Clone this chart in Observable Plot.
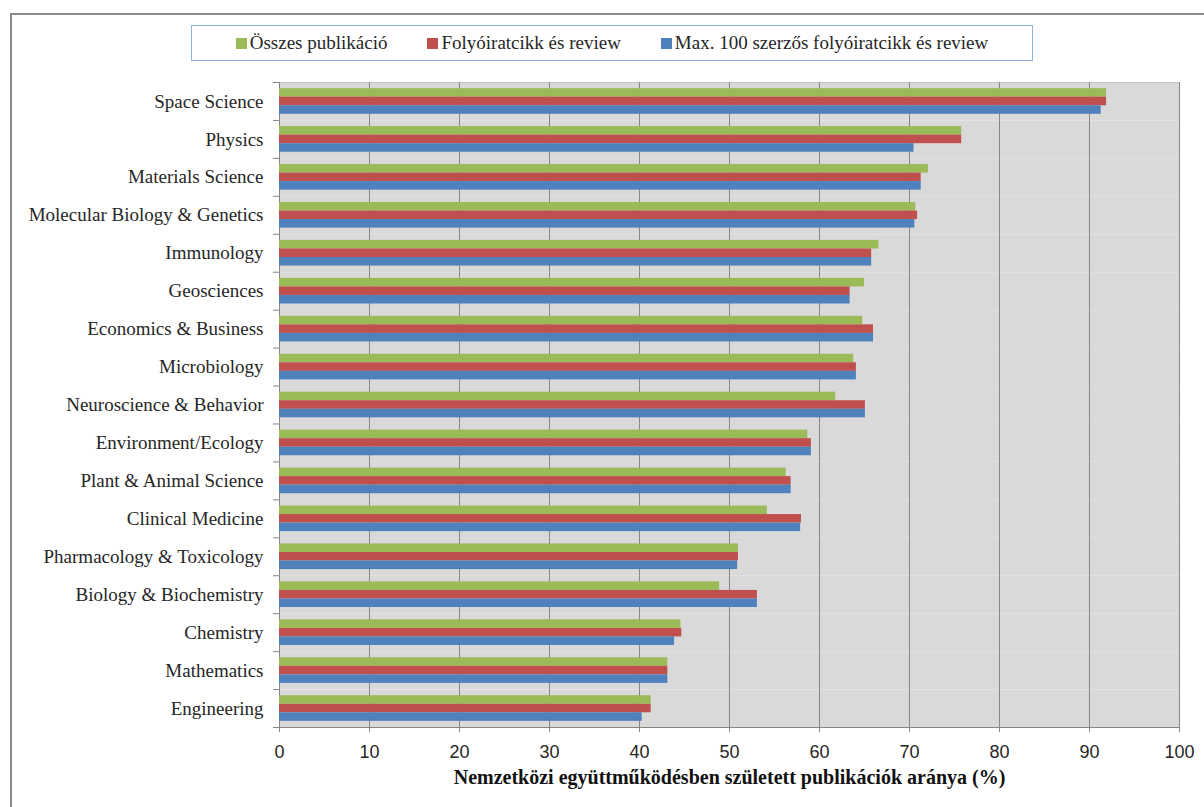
<!DOCTYPE html>
<html>
<head>
<meta charset="utf-8">
<script src="https://cdn.jsdelivr.net/npm/d3@7"></script>
<script src="https://cdn.jsdelivr.net/npm/@observablehq/plot@0.6"></script>
<style>
  html, body { margin: 0; padding: 0; background: #fff; }
  #chart { position: relative; width: 1204px; height: 807px; overflow: hidden; }
  #border { position: absolute; left: 10px; top: 13px; width: 1300px; height: 900px;
            border-left: 2px solid #8a8a8a; border-top: 2px solid #8a8a8a; }
  #legend { position: absolute; left: 191px; top: 25px; width: 840px; height: 34px;
            border: 1px solid #8eb4e3; background: #fff;
            display: flex; align-items: center; justify-content: center; gap: 40px;
            font-family: "Liberation Serif", "DejaVu Serif", serif; font-size: 19px; color: #262626; }
  #legend .item { display: flex; align-items: center; }
  #legend .sw { width: 11px; height: 11px; margin-right: 3px; }
  #plot { position: absolute; left: 0; top: 0; }
</style>
</head>
<body>
<div id="chart">
  <div id="border"></div>
  <div id="plot"></div>
  <div id="legend"></div>
</div>
<script>
// Research fields, top to bottom
const categories = [
  "Space Science",
  "Physics",
  "Materials Science",
  "Molecular Biology & Genetics",
  "Immunology",
  "Geosciences",
  "Economics & Business",
  "Microbiology",
  "Neuroscience & Behavior",
  "Environment/Ecology",
  "Plant & Animal Science",
  "Clinical Medicine",
  "Pharmacology & Toxicology",
  "Biology & Biochemistry",
  "Chemistry",
  "Mathematics",
  "Engineering"
];

// Series names and colours
const seriesNames = [
  "Összes publikáció",
  "Folyóiratcikk és review",
  "Max. 100 szerzős folyóiratcikk és review"
];
const seriesColors = ["#9bbb59", "#c0504d", "#4f81bd"];

// Share of internationally co-authored publications (%)
const osszesPublikacio = [91.9, 75.8, 72.1, 70.7, 66.6, 65.0, 64.8, 63.8, 61.8, 58.7, 56.3, 54.2, 51.0, 48.9, 44.6, 43.15, 41.3];
const folyoiratcikk    = [91.9, 75.8, 71.3, 70.9, 65.8, 63.4, 66.0, 64.1, 65.1, 59.1, 56.85, 58.0, 51.0, 53.1, 44.7, 43.15, 41.3];
const max100Szerzos    = [91.3, 70.5, 71.3, 70.6, 65.8, 63.4, 66.0, 64.1, 65.1, 59.1, 56.85, 57.9, 50.9, 53.1, 43.9, 43.15, 40.3];

const xTicks = [0, 10, 20, 30, 40, 50, 60, 70, 80, 90, 100];
const xTitle = "Nemzetközi együttműködésben született publikációk aránya (%)";

const seriesValues = [osszesPublikacio, folyoiratcikk, max100Szerzos];
const rows = categories.flatMap((category, i) =>
  seriesNames.map((series, s) => ({category, series, value: seriesValues[s][i]}))
);

const marginTop = 82, marginBottom = 80, height = 807;
const band = (height - marginTop - marginBottom) / categories.length;

const serif = "'Liberation Serif', 'DejaVu Serif', serif";
const sans = "'Liberation Sans Narrow', 'Arial Narrow', 'Liberation Sans', sans-serif";

const chart = Plot.plot({
  width: 1204,
  height,
  marginLeft: 279,
  marginRight: 25,
  marginTop,
  marginBottom,
  style: {background: "transparent", overflow: "visible"},
  x: {domain: [0, 100]},
  fy: {domain: categories, padding: 0, round: false, label: null},
  y: {domain: seriesNames, paddingInner: 0, paddingOuter: 0.72, round: false, axis: null},
  color: {domain: seriesNames, range: seriesColors},
  marks: [
    Plot.frame({fill: "#d9d9d9", stroke: null}),
    Plot.frame({anchor: "top", stroke: "#c4c4c4", facetAnchor: "top"}),
    Plot.gridX({ticks: xTicks, stroke: "#868686", strokeOpacity: 1}),
    Plot.barX(rows, {x: "value", y: "series", fy: "category", fill: "series"}),
    Plot.frame({anchor: "bottom", stroke: "#868686", facetAnchor: "bottom"}),
    Plot.axisX({ticks: xTicks, tickSize: 5, tickPadding: 13, stroke: "#868686",
                fontSize: 18, fontFamily: sans, color: "#262626", label: null}),
    Plot.text([xTitle], {frameAnchor: "bottom", dy: 50, lineAnchor: "middle", facetAnchor: "bottom",
                         fontSize: 20, fontWeight: "bold", fontFamily: serif, fill: "#111"}),
    Plot.axisFy({anchor: "left", tickSize: 0, tickPadding: 16, fontSize: 19, fontFamily: serif,
                 color: "#262626", label: null}),
    Plot.axisFy({anchor: "left", tickSize: 6, tickFormat: () => "", dy: -band / 2,
                 stroke: "#868686", label: null}),
    Plot.axisFy({anchor: "left", ticks: [categories[categories.length - 1]], tickSize: 6,
                 tickFormat: () => "", dy: band / 2, stroke: "#868686", label: null})
  ]
});
document.getElementById("plot").append(chart);

// Legend
const legend = document.getElementById("legend");
seriesNames.forEach((name, i) => {
  const item = document.createElement("div");
  item.className = "item";
  const sw = document.createElement("span");
  sw.className = "sw";
  sw.style.background = seriesColors[i];
  const label = document.createElement("span");
  label.textContent = name;
  item.append(sw, label);
  legend.append(item);
});
</script>
</body>
</html>
